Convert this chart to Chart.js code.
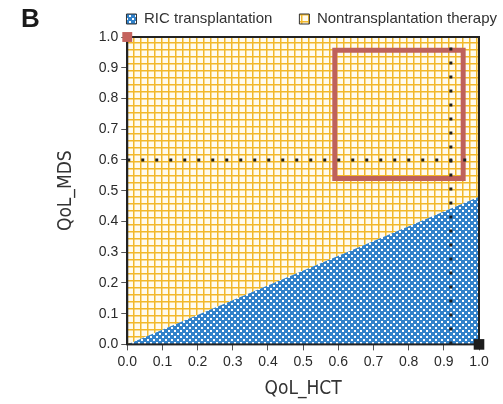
<!DOCTYPE html>
<html>
<head>
<meta charset="utf-8">
<script src="https://cdn.jsdelivr.net/npm/chart.js@4.4.1/dist/chart.umd.min.js"></script>
<style>
  html, body { margin: 0; padding: 0; background: #ffffff; }
  #wrap { width: 503px; height: 404px; }
</style>
</head>
<body>
<div id="wrap"><canvas id="chart" width="503" height="404"></canvas></div>
<script>
// Decision regions: above the boundary favours nontransplantation therapy,
// below it favours RIC transplantation.
const seriesLabels = ['RIC transplantation', 'Nontransplantation therapy'];
const boundaryHCT = [0, 1];
const boundaryMDS = [0, 0.48];

// Highlighted region of plausible utilities
const boxHCT = [0.59, 0.955, 0.955, 0.59, 0.59, 0.955];
const boxMDS = [0.54, 0.54, 0.957, 0.957, 0.54, 0.54];

// Threshold reference lines
const refMDS = 0.6;
const refMDSEnd = 0.97;
const refHCT = 0.92;

// Corner markers
const markerRed = [0, 1];
const markerBlack = [1, 0];

const tickValues = [0, 0.1, 0.2, 0.3, 0.4, 0.5, 0.6, 0.7, 0.8, 0.9, 1.0];
const xTitle = 'QoL_HCT';
const yTitle = 'QoL_MDS';
const panelLetter = 'B';

function makePattern(size, paint) {
  const c = document.createElement('canvas');
  c.width = size; c.height = size;
  const g = c.getContext('2d');
  paint(g, size);
  return document.getElementById('chart').getContext('2d').createPattern(c, 'repeat');
}

const gridPattern = makePattern(7, (g, s) => {
  g.fillStyle = '#fffbee';
  g.fillRect(0, 0, s, s);
  g.fillStyle = '#f2b82a';
  g.fillRect(0, 0, 1.5, s);
  g.fillRect(0, 0, s, 1.5);
});

const hatchPattern = makePattern(6, (g, s) => {
  g.fillStyle = '#3282ca';
  g.fillRect(0, 0, s, s);
  g.fillStyle = '#ffffff';
  g.fillRect(0, 0, 2, 2);
  g.fillRect(3, 3, 2, 2);
});

const toPts = (xs, ys) => xs.map((x, i) => ({ x, y: ys[i] }));

const narrowFont = "'Liberation Sans Narrow', 'DejaVu Sans Condensed', 'Liberation Sans', sans-serif";
const bodyFont = "'Liberation Sans', Arial, sans-serif";

const framePlugin = {
  id: 'frame',
  afterDatasetDraw(chart, args) {
    if (args.index !== 0) return;
    const a = chart.chartArea;
    const ctx = chart.ctx;
    ctx.save();
    ctx.strokeStyle = '#222222';
    ctx.lineWidth = 2;
    ctx.strokeRect(a.left, a.top, a.right - a.left, a.bottom - a.top);
    ctx.restore();
  }
};

const letterPlugin = {
  id: 'panelLetter',
  afterDraw(chart) {
    const ctx = chart.ctx;
    ctx.save();
    ctx.fillStyle = '#1a1a1a';
    ctx.font = "bold 26px " + bodyFont;
    ctx.textBaseline = 'alphabetic';
    ctx.fillText(panelLetter, 21, 27);
    ctx.restore();
  }
};

const fixedTicks = (scale) => { scale.ticks = tickValues.map(v => ({ value: v })); };

// blank axis used only to reserve space beside the plot
const spacer = (position, size) => ({
  type: 'linear',
  position,
  display: true,
  min: 0,
  max: 1,
  ticks: { display: false },
  grid: { display: false, drawTicks: false },
  border: { display: false },
  afterFit: (s) => { if (s.isHorizontal()) s.height = size; else s.width = size; }
});

new Chart(document.getElementById('chart'), {
  type: 'line',
  data: {
    datasets: [
      {
        label: seriesLabels[0],
        data: toPts(boundaryHCT, boundaryMDS),
        fill: 'start',
        backgroundColor: hatchPattern,
        borderColor: 'rgba(0,0,0,0)',
        borderWidth: 0,
        pointRadius: 0,
        order: 10
      },
      {
        label: seriesLabels[1],
        data: toPts(boundaryHCT, boundaryMDS),
        fill: 'end',
        backgroundColor: gridPattern,
        borderColor: 'rgba(0,0,0,0)',
        borderWidth: 0,
        pointRadius: 0,
        order: 10
      },
      {
        label: 'box',
        data: toPts(boxHCT, boxMDS),
        fill: false,
        borderColor: '#bf615b',
        borderWidth: 5,
        borderJoinStyle: 'miter',
        pointRadius: 0,
        order: 3
      },
      {
        label: 'mds-ref',
        data: toPts([0, refMDSEnd], [refMDS, refMDS]),
        fill: false,
        borderColor: '#1e1e1e',
        borderWidth: 3,
        borderDash: [3, 11],
        pointRadius: 0,
        order: 2
      },
      {
        label: 'hct-ref',
        data: toPts([refHCT, refHCT], [0, 1]),
        fill: false,
        borderColor: '#1e1e1e',
        borderWidth: 3,
        borderDash: [3, 11],
        pointRadius: 0,
        order: 2
      },
      {
        label: 'red-corner',
        data: [{ x: markerRed[0], y: markerRed[1] }],
        showLine: false,
        pointStyle: 'rect',
        pointRadius: 7,
        pointBackgroundColor: '#c4635d',
        pointBorderWidth: 0,
        clip: false,
        order: 0
      },
      {
        label: 'black-corner',
        data: [{ x: markerBlack[0], y: markerBlack[1] }],
        showLine: false,
        pointStyle: 'rect',
        pointRadius: 7.5,
        pointBackgroundColor: '#1c1c1c',
        pointBorderWidth: 0,
        clip: false,
        order: 0
      }
    ]
  },
  options: {
    responsive: false,
    devicePixelRatio: 1,
    animation: false,
    layout: { padding: { left: 55, right: -21, top: -15.5, bottom: 4 } },
    plugins: {
      tooltip: { enabled: false },
      legend: {
        position: 'top',
        align: 'end',
        labels: {
          boxWidth: 10,
          boxHeight: 10,
          padding: 27,
          color: '#333333',
          font: { family: bodyFont, size: 15 },
          filter: (item) => item.datasetIndex < 2,
          generateLabels(chart) {
            return Chart.defaults.plugins.legend.labels.generateLabels(chart).map(l => {
              l.strokeStyle = '#333333';
              l.lineWidth = 1;
              return l;
            });
          }
        }
      }
    },
    scales: {
      x: {
        type: 'linear',
        min: 0,
        max: 1,
        afterBuildTicks: fixedTicks,
        ticks: {
          color: '#2a2a2a',
          font: { family: bodyFont, size: 14 },
          padding: 3,
          maxRotation: 0,
          callback: v => Number(v).toFixed(1)
        },
        grid: { drawOnChartArea: false, drawTicks: true, tickLength: 6, color: '#555555' },
        border: { display: true, color: '#222222', width: 2 },
        title: {
          display: true,
          text: xTitle,
          color: '#333333',
          font: { family: narrowFont, size: 19 },
          padding: { top: 4, bottom: 0 }
        }
      },
      y: {
        type: 'linear',
        min: 0,
        max: 1,
        afterBuildTicks: fixedTicks,
        ticks: {
          color: '#2a2a2a',
          font: { family: bodyFont, size: 14 },
          padding: 3,
          callback: v => Number(v).toFixed(1)
        },
        grid: { drawOnChartArea: false, drawTicks: true, tickLength: 6, color: '#555555' },
        border: { display: true, color: '#222222', width: 2 },
        title: {
          display: true,
          text: yTitle,
          color: '#333333',
          font: { family: narrowFont, size: 19 },
          padding: { top: 0, bottom: 18 }
        }
      },
      gutterRight: spacer('right', 45),
      gutterTop: spacer('top', 0.5)
    }
  },
  plugins: [framePlugin, letterPlugin]
});
</script>
</body>
</html>
